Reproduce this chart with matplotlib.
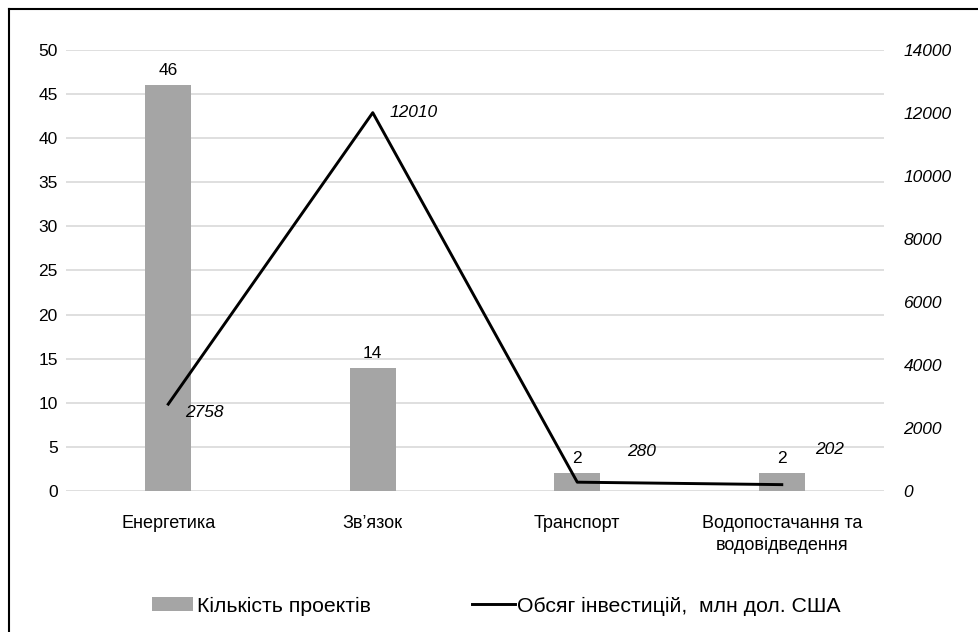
import matplotlib.pyplot as plt
import numpy as np
from matplotlib.lines import Line2D
from matplotlib.patches import Patch

plt.rcParams['font.family'] = ['Liberation Sans', 'DejaVu Sans']

categories = ['Енергетика', 'Зв’язок', 'Транспорт', 'Водопостачання та\nводовідведення']
projects = [46, 14, 2, 2]
investments = [2758, 12010, 280, 202]
left_ticks = [0, 5, 10, 15, 20, 25, 30, 35, 40, 45, 50]
right_ticks = [0, 2000, 4000, 6000, 8000, 10000, 12000, 14000]
legend_labels = ['Кількість проектів', 'Обсяг інвестицій,  млн дол. США']
inv_offsets = [(17, -8), (17, 0), (50, 31), (33, 35)]  # pixel offsets for line labels

fig = plt.figure(figsize=(9.79, 6.32), dpi=100)
ax = fig.add_axes([0.0674, 0.2231, 0.8356, 0.6978])
x = np.arange(len(categories))

ax.bar(x, projects, width=0.225, color='#a5a5a5', zorder=2)
ax.set_ylim(0, 50)
ax.set_xlim(-0.5, len(categories) - 0.5)
ax.set_yticks(left_ticks)
ax.set_yticklabels([str(t) for t in left_ticks], fontsize=12.5)
ax.tick_params(axis='y', length=0, pad=6)
ax.tick_params(axis='x', length=0, pad=17)
ax.set_xticks(x)
ax.set_xticklabels(categories, fontsize=13, linespacing=1.4)
ax.grid(axis='y', color='#d9d9d9', linewidth=1.2, zorder=0)
for s in ax.spines.values():
    s.set_visible(False)

for xi, v in zip(x, projects):
    ax.annotate(str(v), (xi, v), xytext=(0, 7), textcoords='offset pixels',
                ha='center', va='bottom', fontsize=12.5)

ax2 = ax.twinx()
ax2.plot(x, investments, color='black', linewidth=2.1, zorder=3)
ax2.set_ylim(0, 14000)
ax2.set_yticks(right_ticks)
ax2.set_yticklabels([str(t) for t in right_ticks], fontsize=12.5, style='italic')
ax2.tick_params(axis='y', length=0, pad=14)
for s in ax2.spines.values():
    s.set_visible(False)

for xi, v, (dx, dy) in zip(x, investments, inv_offsets):
    ax2.annotate(str(v), (xi, v), xytext=(dx, dy), textcoords='offset pixels',
                 ha='left', va='center', fontsize=12.5, style='italic')

lp = dict(frameon=False, borderpad=0, borderaxespad=0, handletextpad=0.2,
          prop={'family': ['Liberation Sans', 'DejaVu Sans'], 'size': 15.3})
leg1 = fig.legend([Patch(facecolor='#a5a5a5', edgecolor='none')], [legend_labels[0]],
                  loc='center left', bbox_to_anchor=(0.1553, 0.041),
                  handlelength=1.93, handleheight=0.62, **lp)
leg2 = fig.legend([Line2D([0], [0], color='black', linewidth=2.1)], [legend_labels[1]],
                  loc='center left', bbox_to_anchor=(0.482, 0.041),
                  handlelength=2.02, handletextpad=0.12,
                  **{k: v for k, v in lp.items() if k != 'handletextpad'})

# outer border (left and top visible, right/bottom cut off)
fig.add_artist(Line2D([0.0087, 0.0087], [0.0, 0.986], color='black', linewidth=1.5,
                      transform=fig.transFigure))
fig.add_artist(Line2D([0.0087, 1.0], [0.986, 0.986], color='black', linewidth=1.5,
                      transform=fig.transFigure))

fig.savefig('out.png', dpi=100)
